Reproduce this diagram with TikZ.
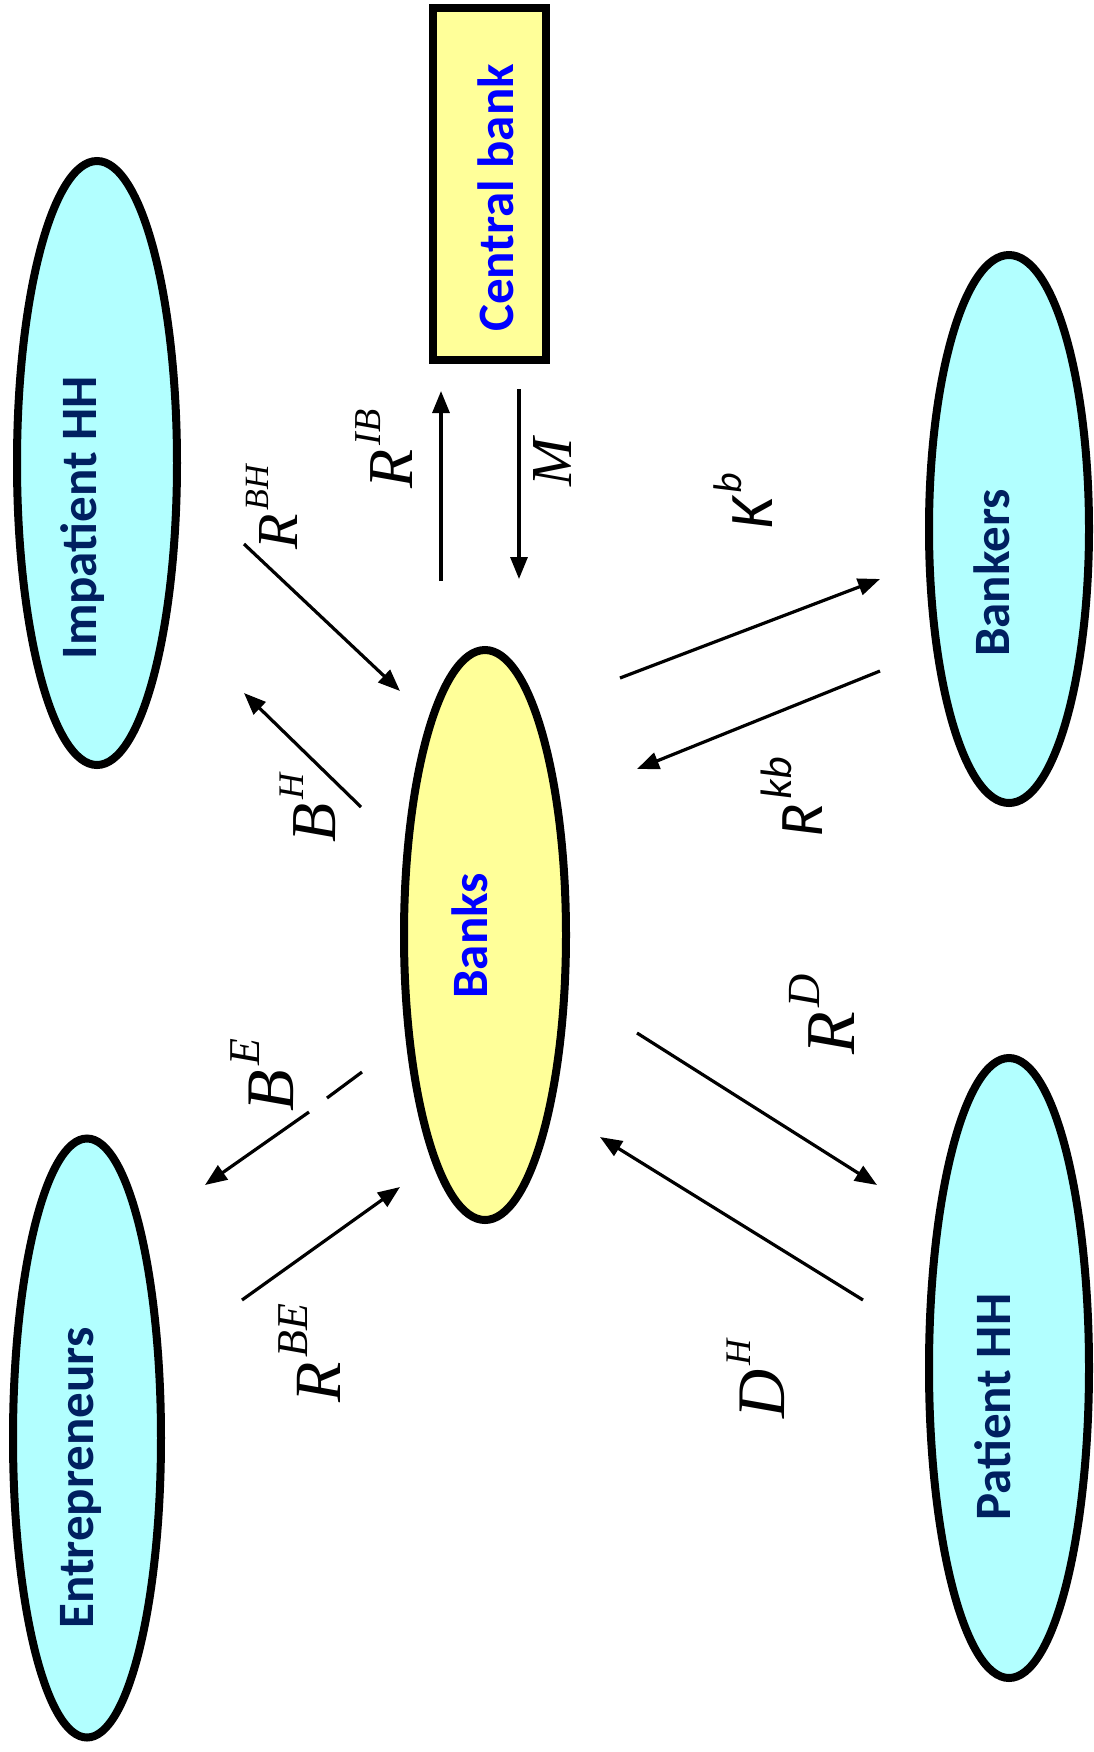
\documentclass[tikz,border=0pt]{standalone}
\usepackage{fontspec}
\setmainfont{Liberation Serif}
\newfontfamily\calibri{Carlito}
\usepackage{tikz}
\usetikzlibrary{arrows.meta,shapes.geometric}
\definecolor{hhcyan}{RGB}{178,255,255}
\definecolor{bankyellow}{RGB}{255,255,153}
\definecolor{hhnavy}{RGB}{0,32,96}
\definecolor{bankblue}{RGB}{0,0,255}
% flow label: size, letter, superscript size, superscript
\newcommand{\flow}[4]{{\fontsize{#1}{#1}\selectfont\itshape #2\kern0.06em\raisebox{0.5em}{\fontsize{#3}{#3}\selectfont #4}}}

\begin{document}
\begin{tikzpicture}[x=0.5pt,y=-0.5pt,>={Triangle[length=11pt,width=8.5pt]},
  agent/.style={ellipse,draw,line width=4pt,fill=hhcyan,rotate=90,inner sep=0pt},
  agenttext/.style={rotate=90,anchor=base,inner sep=0pt,text=hhnavy,font=\calibri\bfseries\fontsize{25.5}{26}\selectfont},
  flowline/.style={line width=1.6pt},
  lbl/.style={rotate=90,inner sep=0pt}]
  \useasboundingbox (0,0) rectangle (1093,1752);

  % agents
  \node[agent,minimum width=302pt,minimum height=80pt] (impatient) at (97,463) {};
  \node[agent,minimum width=274pt,minimum height=80pt] (bankers) at (1009,529) {};
  \node[agent,minimum width=299.5pt,minimum height=74pt] (entre) at (87,1438) {};
  \node[agent,minimum width=310pt,minimum height=80pt] (patient) at (1009,1368) {};
  \node[agent,fill=bankyellow,minimum width=285pt,minimum height=81pt] (banks) at (485,935) {};
  \node[draw,line width=4pt,fill=bankyellow,rotate=90,inner sep=0pt,
        minimum width=176pt,minimum height=56.5pt] (cb) at (489.5,184) {};

  \node[agenttext] (impatienttxt) at (96,518) {Impatient HH};
  \node[agenttext] (bankerstxt) at (1009,573) {Bankers};
  \node[agenttext] (entretxt) at (93,1478) {Entrepreneurs};
  \node[agenttext] (patienttxt) at (1010,1407) {Patient HH};
  \node[agenttext,text=bankblue] (bankstxt) at (487,936) {Banks};
  \node[agenttext,text=bankblue] (cbtxt) at (513,198) {Central bank};

  % flows
  \coordinate (rbhA) at (244,544);  \coordinate (rbhB) at (400,691);
  \coordinate (bhA) at (361,807);   \coordinate (bhB) at (244,693);
  \coordinate (ribA) at (441,581);  \coordinate (ribB) at (441,391);
  \coordinate (mA) at (519,389);    \coordinate (mB) at (519,579);
  \coordinate (kbA) at (620,678);   \coordinate (kbB) at (880,579);
  \coordinate (rkbA) at (880,671);  \coordinate (rkbB) at (637,769);
  \coordinate (rdA) at (637,1033);  \coordinate (rdB) at (877,1185);
  \coordinate (dhA) at (863,1300);  \coordinate (dhB) at (600,1137);
  \coordinate (beA) at (362,1072);  \coordinate (beG1) at (327,1098);
  \coordinate (beG2) at (309,1112); \coordinate (beB) at (205,1185);
  \coordinate (rbeA) at (242,1300); \coordinate (rbeB) at (400,1187);

  \draw[flowline,->] (rbhA) -- (rbhB);
  \draw[flowline,->] (bhA) -- (bhB);
  \draw[flowline,->] (ribA) -- (ribB);
  \draw[flowline,->] (mA) -- (mB);
  \draw[flowline,->] (kbA) -- (kbB);
  \draw[flowline,->] (rkbA) -- (rkbB);
  \draw[flowline,->] (rdA) -- (rdB);
  \draw[flowline,->] (dhA) -- (dhB);
  \draw[flowline] (beA) -- (beG1);
  \draw[flowline,->] (beG2) -- (beB);
  \draw[flowline,->] (rbeA) -- (rbeB);

  \node[lbl] (rbhlbl) at (272,507) {\flow{29}{R}{17}{BH}};
  \node[lbl] (riblbl) at (384,449) {\flow{32}{R}{19}{IB}};
  \node[lbl] (mlbl) at (553,462) {\fontsize{29}{29}\selectfont\itshape M};
  \node[lbl] (kblbl) at (743,501) {\calibri\flow{31}{K}{20}{b}};
  \node[lbl] (rkblbl) at (792,797) {\calibri\flow{31}{R}{22}{kb}};
  \node[lbl] (bhlbl) at (308,808) {\flow{32}{B}{18}{H}};
  \node[lbl] (belbl) at (262,1075) {\flow{34}{B}{22}{E}};
  \node[lbl] (rbelbl) at (310,1353) {\flow{33}{R}{22}{BE}};
  \node[lbl] (rdlbl) at (822,1014) {\flow{35}{R}{23}{D}};
  \node[lbl] (dhlbl) at (756,1379) {\flow{34}{D}{18}{H}};
\end{tikzpicture}
\end{document}
